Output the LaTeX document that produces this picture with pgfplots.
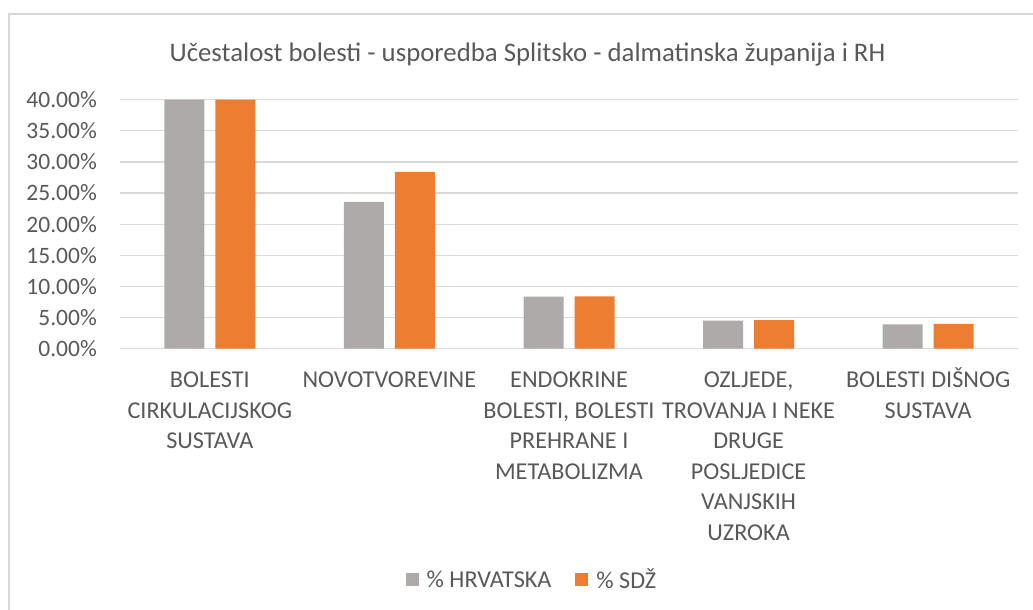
\documentclass[border=0pt]{standalone}
\usepackage{pgfplots}
\pgfplotsset{compat=1.18}
\usepackage{fontspec}
\setmainfont{Carlito}
\definecolor{txt}{HTML}{595959}
\definecolor{grayb}{HTML}{AEAAAA}
\definecolor{orangeb}{HTML}{ED7D31}
\definecolor{gridc}{HTML}{D9D9D9}
\newcommand{\lf}{\fontsize{24.2}{30.5}\selectfont}
\newcommand{\tf}{\fontsize{23.5}{30.5}\selectfont}
\begin{document}
\begin{tikzpicture}
\path[use as bounding box] (0pt,0pt) rectangle (1033pt,610pt);
\draw[gridc, line width=1.5pt] (9pt,0pt) -- (9pt,596pt) -- (1033pt,596pt);
\node[text=txt, font=\fontsize{26.8}{32}\selectfont, anchor=base, inner sep=0pt] at (527.5pt,548pt) {Učestalost bolesti - usporedba Splitsko - dalmatinska županija i RH};
\begin{axis}[
  at={(120pt,261.3pt)}, anchor=south west, scale only axis,
  width=898pt, height=249pt,
  ybar=11pt, bar width=40pt,
  xmin=-0.5, xmax=4.5, ymin=0, ymax=40,
  axis line style={draw=none},
  tick style={draw=none},
  major tick length=0pt,
  ymajorgrids, grid style={gridc, line width=1.3pt},
  xtick={0,1,2,3,4},
  xticklabels={
    {\vphantom{Š}BOLESTI\\CIRKULACIJSKOG\\SUSTAVA},
    {\vphantom{Š}NOVOTVOREVINE},
    {\vphantom{Š}ENDOKRINE\\BOLESTI, BOLESTI\\PREHRANE I\\METABOLIZMA},
    {\vphantom{Š}OZLJEDE,\\TROVANJA I NEKE\\DRUGE\\POSLJEDICE\\VANJSKIH\\UZROKA},
    {\vphantom{Š}BOLESTI DIŠNOG\\SUSTAVA}},
  xticklabel style={align=center, anchor=north, inner sep=0pt, yshift=-19pt, font=\lf, text=txt},
  ytick={0,5,10,15,20,25,30,35,40},
  yticklabels={0.00\%,5.00\%,10.00\%,15.00\%,20.00\%,25.00\%,30.00\%,35.00\%,40.00\%},
  yticklabel style={anchor=east, inner sep=0pt, xshift=-23pt, font=\tf, text=txt},
  legend style={at={(0.4588,-0.928)}, anchor=center, draw=none, fill=none,
    legend columns=2, font=\lf, text=txt, legend cell align=left,
    /tikz/every even column/.append style={column sep=22pt}},
  legend image code/.code={\fill[#1] (0pt,-6.5pt) rectangle (13pt,6.5pt); \path (0pt,0pt) -- (19pt,0pt);},
]
\addplot[fill=grayb, draw=none] coordinates {(0,40) (1,23.6) (2,8.35) (3,4.5) (4,3.9)};
\addplot[fill=orangeb, draw=none] coordinates {(0,40) (1,28.4) (2,8.4) (3,4.6) (4,4.0)};
\legend{\% HRVATSKA, \% SDŽ}
\end{axis}
\end{tikzpicture}
\end{document}
